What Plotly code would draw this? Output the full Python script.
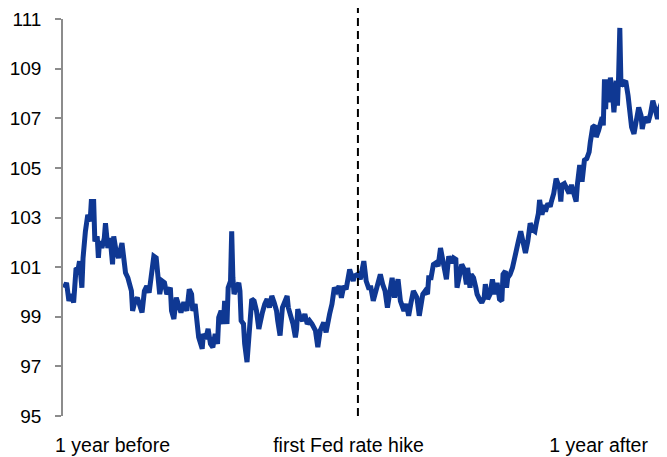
import plotly.graph_objects as go

# trading days relative to the first Fed rate hike
days = [
    -249, -247, -245, -243, -241, -239, -237, -236, -234, -233, -231, -230, -229, -227, -226,
    -224, -223, -221, -220, -219, -217, -215, -214, -212, -210, -208, -207, -205, -203, -200,
    -199, -197, -195, -192, -191, -189, -187, -185, -183, -181, -179, -177, -175, -173, -171,
    -170, -168, -166, -164, -162, -159, -158, -156, -154, -152, -150, -148,
    -147, -145, -143, -141, -140, -138, -136, -135, -132, -131, -129, -127, -125, -123, -121,
    -119, -118, -116, -114, -113, -111, -110, -108, -107, -106, -105, -103, -101, -100, -99,
    -97, -96, -94, -93, -92, -90, -88, -86, -84, -82, -81, -79, -77, -75, -73, -71, -69, -68,
    -66, -64, -62, -60, -59, -57, -55, -53, -52, -51, -49,
    -47, -45, -43, -41, -39, -36, -34, -32, -29, -27, -24, -22, -20, -18, -16, -14, -12, -10,
    -7, -4, -3, 0, 2, 5, 7, 9, 11, 13, 16, 19, 21, 23, 25, 27, 29, 31, 34, 36, 39, 41, 43, 45,
    47, 50, 52,
    55, 57, 59, 60, 62, 64, 66, 68, 70, 72, 74, 75, 77, 79, 81, 83, 84, 86, 88, 90, 92, 93, 95,
    96, 98, 100, 101, 103, 105, 107, 108, 110, 112, 114, 116, 118, 120, 122, 123, 125, 126, 127,
    129, 131, 133, 135, 136, 138, 140, 141, 142, 144, 146, 148, 150, 151, 153, 154, 156, 158,
    159, 161, 163,
    164, 166, 168, 171, 172, 173, 175, 177, 179, 181, 183, 185, 186, 188, 190, 191, 192, 194,
    196, 197, 199, 201, 202, 204, 205, 207, 208, 209, 210, 211, 213, 214, 216, 217, 219, 220,
    221, 222, 223, 225, 227, 229, 231, 232, 234, 236, 238, 240, 241, 243, 245, 246, 248, 250,
    252, 254, 255, 257, 259, 260,
]

dollar_index = [
    100.17, 100.37, 99.64, 99.91, 99.57, 100.91, 100.97, 101.24, 100.17, 101.37, 102.44, 102.97, 103.11, 102.84, 103.64,
    103.64, 102.04, 102.24, 101.37, 102.04, 101.77, 102.17, 102.77, 101.77, 102.17, 101.11, 102.24, 101.64, 101.37, 101.97,
    101.37, 100.77, 100.57, 100.04, 99.24, 99.64, 99.77, 99.44, 99.17, 100.04, 100.24, 99.97, 100.84, 101.44, 101.37,
    100.71, 99.91, 100.44, 100.37, 99.91, 100.17, 99.24, 98.91, 99.77, 99.51, 99.17, 99.51,
    99.51, 99.24, 100.11, 99.91, 99.24, 99.51, 98.84, 98.17, 97.71, 98.31, 98.11, 98.51, 97.91, 97.77, 98.31,
    97.91, 98.97, 99.24, 98.71, 99.64, 98.71, 100.17, 100.44, 102.44, 100.57, 99.91, 100.17, 100.37, 100.04, 98.84,
    98.71, 97.91, 97.17, 97.91, 98.84, 99.71, 99.64, 99.24, 98.51, 99.11, 99.17, 99.51, 99.71, 99.37, 99.84, 99.57, 99.24, 98.84,
    98.24, 99.37, 99.57, 99.84, 99.37, 99.11, 98.71, 98.17, 98.5, 99.31, 98.97,
    98.84, 99.11, 98.71, 98.84, 98.71, 98.44, 97.77, 98.44, 98.77, 98.37, 99.11, 99.51, 100.17, 100.04, 100.24, 99.77, 100.24, 100.11,
    100.91, 100.44, 100.64, 100.71, 100.51, 101.24, 100.44, 100.17, 100.17, 99.64, 100.17, 100.71, 100.31, 100.04, 99.37, 99.91, 100.57, 99.77, 100.51, 99.64, 99.24, 99.51, 99.04, 99.57,
    100.04, 99.77, 99.04,
    99.91, 100.04, 99.91, 100.57, 100.57, 101.11, 101.17, 101.04, 101.77, 101.24, 100.97, 100.51, 101.44, 101.17, 101.37, 101.31, 100.17, 100.71, 101.11, 100.91, 100.31, 100.97, 100.17,
    100.71, 100.57, 100.17, 99.91, 99.71, 99.57, 99.77, 100.31, 99.71, 99.91, 100.51, 99.91, 100.37, 99.71, 99.64, 100.71, 100.84, 100.17, 100.57,
    100.71, 100.97, 101.51, 101.91, 102.04, 102.44, 101.97, 101.91, 101.57, 102.04, 102.77, 102.51, 102.44, 102.71, 103.17, 103.71, 103.11, 103.51,
    103.24, 103.57, 103.44,
    103.64, 103.97, 104.57, 104.17, 103.64, 104.31, 104.37, 104.17, 103.97, 104.31, 104.04, 103.64, 104.31, 105.11, 104.44, 104.97, 105.31, 105.37,
    105.64, 106.04, 106.64, 106.71, 106.24, 106.51, 106.71, 107.04, 106.71, 108.57, 107.37, 108.57, 107.64, 108.64, 107.91, 107.24, 108.51, 107.51,
    108.71, 110.64, 108.31, 108.44, 108.51, 107.91, 107.24, 106.64, 106.37, 106.97, 107.44, 107.11, 106.57, 107.04, 106.84, 106.84, 107.17, 107.71,
    107.37, 106.97, 107.31, 107.64, 107.84, 107.11,
]

label_days = [-208, -8, 204]
labels = ["1 year before", "first Fed rate hike", "1 year after"]
y_ticks = [95, 97, 99, 101, 103, 105, 107, 109, 111]

fig = go.Figure()

fig.add_trace(go.Scatter(
    x=days,
    y=dollar_index,
    mode='lines',
    line=dict(color='#0f3893', width=5),
    showlegend=False,
    cliponaxis=False
))

# first hike marker
fig.add_shape(
    type='line', xref='x', yref='paper',
    x0=0, x1=0, y0=0, y1=1.03,
    line=dict(color='black', width=2, dash='8px,5px')
)

# page body keeps its default 8px margin, so the figure is 8px smaller
fig.update_layout(
    width=659,
    height=449,
    margin=dict(l=55, r=0, t=11, b=41, autoexpand=False),
    plot_bgcolor='white',
    paper_bgcolor='white',
    font=dict(family='Liberation Sans, Arial', size=19.5, color='black'),
    xaxis=dict(
        range=[-250, 262],
        tickvals=label_days,
        ticktext=labels,
        showgrid=False,
        zeroline=False,
        showline=False,
        ticks='',
        ticklabelstandoff=15,
        ticklabeloverflow='allow',
        automargin=False
    ),
    yaxis=dict(
        range=[95, 111],
        tickvals=y_ticks,
        showgrid=False,
        zeroline=False,
        showline=True,
        linecolor='#8c8c8c',
        linewidth=1.5,
        ticks='outside',
        ticklen=6,
        tickcolor='#8c8c8c',
        tickwidth=1.5,
        ticklabelstandoff=10,
        ticklabeloverflow='allow',
        tickfont=dict(size=19),
        automargin=False
    )
)

fig.write_html("out.html")
